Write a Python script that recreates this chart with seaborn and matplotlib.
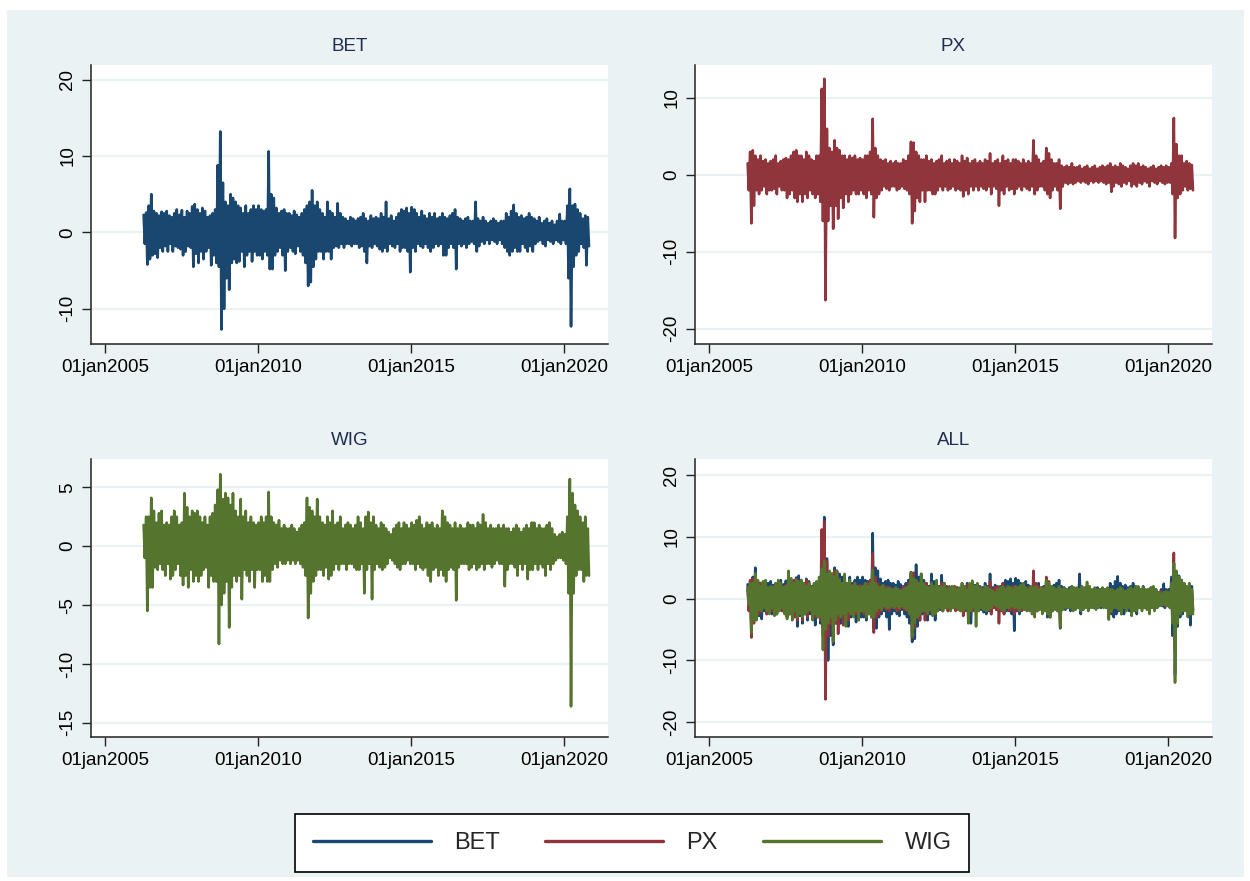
import numpy as np
import pandas as pd
import matplotlib
matplotlib.use("Agg")
import matplotlib.pyplot as plt
from matplotlib.patches import Rectangle
from matplotlib.lines import Line2D
import seaborn as sns

# ---------------- data (monthly high / low of daily returns, Apr 2006 - Oct 2020) -------------
start_month = "2006-04-01"

bet_hi = [2.3, 2.6, 3.5, 5.0, 2.8, 2.5, 2.2, 2.7, 2.5,
          2.8, 2.2, 2.0, 2.5, 3.0, 2.3, 2.9, 2.0, 2.8, 2.5, 3.4, 3.7,
          3.0, 2.5, 3.2, 2.8, 2.0, 2.2, 2.5, 3.0, 8.8, 13.2, 6.5, 4.0,
          3.5, 5.0, 4.5, 4.0, 3.5, 3.2, 2.5, 3.5, 2.5, 3.0, 3.5, 3.0,
          3.5, 3.0, 2.8, 3.0, 10.6, 5.0, 4.5, 3.2, 2.5, 2.8, 3.0, 2.5,
          2.5, 2.2, 2.8, 2.3, 2.0, 2.5, 3.0, 3.5, 4.0, 5.5, 3.5, 4.0,
          3.0, 2.5, 2.0, 4.0, 2.8, 2.5, 2.0, 3.8, 2.5, 2.0, 1.8, 1.5,
          2.0, 1.8, 1.5, 1.8, 2.0, 2.5, 1.8, 1.5, 2.2, 1.8, 2.0, 1.8,
          2.5, 2.0, 4.0, 1.8, 2.2, 1.5, 2.0, 2.5, 3.0, 2.8, 3.2, 2.5,
          3.3, 3.0, 2.5, 2.0, 2.8, 2.2, 1.8, 2.5, 2.0, 2.5, 1.8, 2.0,
          2.5, 2.0, 1.8, 2.2, 2.5, 3.0, 2.0, 1.8, 1.5, 1.8, 2.0, 1.5,
          1.5, 4.0, 1.8, 1.5, 2.0, 1.5, 1.2, 1.5, 1.8, 1.5, 1.2, 1.5,
          1.5, 2.5, 2.0, 2.8, 3.6, 2.5, 2.0, 2.2, 1.8, 2.0, 2.5, 2.0,
          1.8, 1.5, 2.0, 1.2, 1.5, 1.8, 1.2, 1.5, 1.0, 1.5, 2.4, 1.5,
          1.5, 3.5, 5.7, 3.5, 3.7, 3.0, 2.5, 1.8, 2.2, 2.0]
bet_lo = [-1.5, -4.2, -3.5, -3.0, -2.8, -3.3, -2.0, -2.5, -1.8,
          -2.5, -1.5, -2.5, -1.8, -2.0, -2.2, -3.0, -2.5, -1.8, -2.0, -4.5, -2.8,
          -4.0, -2.5, -3.5, -2.5, -2.0, -4.3, -3.0, -4.0, -4.5, -12.7, -10.0, -6.0,
          -7.5, -4.0, -3.5, -4.0, -3.8, -2.5, -4.5, -3.0, -2.5, -3.8, -2.5, -3.0,
          -3.0, -3.5, -2.5, -3.0, -4.8, -4.8, -3.0, -2.5, -2.0, -3.0, -5.0, -2.5,
          -2.0, -2.5, -2.8, -1.8, -2.5, -3.0, -4.0, -7.0, -6.5, -4.5, -3.5, -2.5,
          -2.5, -3.5, -2.5, -2.5, -3.5, -2.0, -1.8, -2.0, -1.5, -2.0, -1.5, -1.5,
          -1.8, -1.5, -1.5, -2.0, -1.8, -2.5, -4.0, -1.8, -2.0, -1.5, -1.8, -2.2,
          -2.5, -2.0, -2.5, -1.5, -1.8, -2.0, -1.5, -2.5, -2.0, -2.0, -2.5, -5.2,
          -2.0, -2.5, -1.5, -1.8, -2.0, -1.5, -2.0, -2.5, -2.0, -1.5, -1.8, -1.5,
          -3.0, -3.0, -2.0, -1.5, -2.0, -4.8, -1.5, -1.8, -1.5, -2.0, -1.5, -1.2,
          -1.5, -2.5, -1.8, -1.2, -1.5, -1.0, -1.5, -1.0, -1.2, -1.5, -1.0, -1.5,
          -2.0, -2.5, -3.0, -2.5, -2.0, -2.5, -2.5, -1.5, -2.0, -2.5, -1.8, -2.5,
          -1.5, -1.2, -1.0, -1.5, -1.8, -1.0, -1.2, -1.5, -1.0, -1.2, -1.5, -1.0,
          -1.5, -6.0, -12.3, -4.5, -3.0, -2.5, -1.5, -2.0, -4.3, -1.8]

px_hi = [1.5, 3.0, 3.2, 2.5, 2.0, 2.5, 1.8, 2.0, 1.5,
         1.8, 2.0, 2.5, 1.5, 1.8, 2.0, 2.2, 2.0, 2.5, 3.0, 3.2, 2.5,
         2.5, 2.0, 3.0, 2.5, 2.0, 1.8, 2.5, 2.5, 11.2, 12.5, 6.0, 3.5,
         3.0, 4.5, 3.5, 3.2, 2.5, 2.5, 2.0, 2.5, 2.2, 2.5, 2.0, 2.2,
         2.0, 2.5, 2.5, 3.0, 7.3, 3.5, 2.5, 2.0, 1.8, 2.0, 1.5, 1.8,
         1.5, 1.8, 1.5, 1.5, 2.0, 1.8, 2.5, 4.3, 4.2, 3.0, 2.5, 2.0,
         2.0, 2.5, 1.8, 2.0, 1.5, 1.8, 2.0, 2.5, 1.5, 1.8, 2.0, 1.5,
         2.0, 1.8, 1.5, 2.5, 1.8, 2.2, 1.5, 1.8, 2.0, 1.5, 1.8, 1.5,
         2.0, 1.8, 2.8, 1.5, 1.8, 2.0, 1.5, 2.5, 1.8, 2.0, 1.5, 2.0,
         2.0, 1.8, 1.5, 2.0, 1.5, 1.8, 1.5, 4.5, 2.5, 2.0, 1.5, 1.8,
         3.5, 2.8, 2.0, 1.5, 1.5, 2.0, 1.2, 1.0, 1.2, 1.0, 1.5, 1.0,
         1.0, 1.2, 0.8, 1.0, 1.2, 0.8, 1.0, 1.2, 0.8, 1.0, 1.2, 1.0,
         1.2, 1.5, 1.0, 1.2, 1.0, 1.5, 1.2, 1.0, 0.8, 1.2, 1.5, 1.2,
         1.5, 1.0, 1.2, 1.0, 0.8, 1.0, 1.2, 0.8, 1.0, 1.2, 1.0, 1.2,
         1.0, 1.5, 7.4, 4.0, 2.5, 2.5, 1.5, 1.8, 1.5, 1.3]
px_lo = [-2.0, -6.3, -4.0, -2.0, -2.5, -2.0, -1.5, -2.5, -2.0,
         -2.0, -1.8, -2.5, -1.5, -2.0, -2.0, -3.0, -2.5, -2.0, -3.0, -3.5, -2.5,
         -3.5, -2.5, -3.0, -2.0, -2.5, -3.0, -2.5, -3.5, -6.0, -16.3, -6.0, -4.0,
         -7.0, -4.0, -5.7, -3.0, -4.3, -2.5, -3.5, -2.5, -2.0, -2.5, -2.5, -2.0,
         -2.5, -3.0, -2.0, -2.5, -5.5, -3.0, -2.5, -2.0, -1.5, -1.8, -2.0, -1.5,
         -1.5, -2.0, -1.8, -1.5, -1.8, -2.0, -2.5, -6.3, -4.7, -3.0, -3.5, -2.0,
         -3.5, -2.0, -2.0, -2.5, -2.5, -2.0, -1.5, -2.0, -1.5, -2.0, -1.8, -1.5,
         -2.0, -1.8, -2.0, -2.8, -2.0, -2.5, -1.5, -2.0, -1.5, -2.0, -1.5, -1.8,
         -2.0, -1.5, -2.5, -1.5, -1.8, -4.0, -2.0, -2.5, -1.5, -2.0, -1.8, -2.5,
         -1.8, -1.5, -2.0, -1.5, -1.8, -2.0, -1.5, -2.5, -2.0, -1.5, -1.5, -2.0,
         -2.5, -3.0, -2.0, -1.5, -2.0, -4.4, -1.5, -1.0, -1.2, -1.0, -1.2, -1.0,
         -0.8, -1.0, -0.8, -1.0, -1.2, -0.8, -1.0, -0.8, -1.0, -0.8, -1.0, -1.2,
         -1.0, -2.2, -1.5, -1.0, -1.2, -1.5, -1.0, -1.2, -0.8, -1.5, -1.2, -1.5,
         -1.0, -1.2, -0.8, -1.0, -1.5, -0.8, -1.0, -1.2, -0.8, -1.0, -1.2, -1.0,
         -1.0, -2.5, -8.2, -3.0, -2.5, -2.0, -1.5, -2.0, -1.8, -2.0]

wig_hi = [1.8, 2.5, 2.5, 4.1, 3.0, 2.0, 2.8, 3.0, 1.8,
          2.0, 1.8, 2.5, 3.0, 2.5, 1.8, 2.0, 4.5, 3.3, 2.5, 3.0, 2.8,
          3.0, 2.5, 2.0, 2.5, 1.8, 2.5, 2.8, 3.5, 4.8, 6.1, 4.0, 4.5,
          4.1, 3.5, 4.5, 3.0, 2.5, 4.0, 2.5, 3.0, 2.0, 2.5, 2.0, 1.8,
          2.0, 2.5, 2.0, 2.5, 4.6, 2.5, 2.0, 1.8, 2.2, 1.5, 1.8, 1.5,
          1.5, 1.8, 1.5, 1.2, 1.5, 1.8, 2.0, 4.1, 3.3, 3.0, 2.5, 4.0,
          2.5, 2.0, 1.8, 2.5, 2.0, 3.0, 1.8, 2.0, 2.5, 1.5, 1.8, 2.0,
          1.8, 1.5, 1.8, 2.5, 2.0, 1.5, 2.5, 2.9, 2.0, 2.5, 1.8, 1.5,
          2.0, 1.8, 1.5, 1.2, 1.0, 1.5, 1.8, 2.0, 1.5, 2.0, 1.8, 1.5,
          2.0, 1.8, 2.2, 2.5, 1.8, 1.5, 2.0, 1.8, 2.0, 1.5, 1.8, 1.5,
          3.0, 2.5, 2.0, 1.8, 1.5, 2.0, 1.5, 1.8, 1.5, 1.5, 2.0, 1.8,
          1.8, 1.5, 2.0, 1.8, 2.7, 2.0, 1.5, 1.8, 1.5, 1.5, 1.8, 1.5,
          1.8, 1.5, 1.5, 1.2, 1.5, 1.8, 1.5, 1.2, 1.5, 1.8, 1.5, 2.0,
          2.0, 1.5, 1.8, 1.5, 1.5, 1.8, 2.0, 1.5, 1.0, 0.8, 1.0, 1.2,
          1.0, 2.5, 5.7, 4.5, 3.5, 3.0, 2.5, 2.0, 2.5, 1.5]
wig_lo = [-1.0, -5.5, -3.5, -3.5, -1.8, -2.0, -1.5, -2.0, -2.5,
          -1.5, -2.8, -2.5, -2.0, -1.5, -2.5, -3.3, -2.5, -3.5, -2.0, -3.0, -2.5,
          -3.0, -2.5, -2.0, -1.8, -3.5, -2.5, -3.0, -3.0, -8.3, -5.0, -4.0, -3.0,
          -6.9, -3.5, -2.5, -3.0, -2.5, -4.5, -2.0, -2.5, -3.0, -2.0, -3.5, -2.0,
          -2.0, -3.0, -2.5, -3.0, -3.0, -2.0, -1.5, -1.8, -1.2, -1.5, -1.5, -1.2,
          -1.5, -1.2, -1.5, -1.2, -1.5, -1.8, -2.5, -6.1, -4.0, -3.0, -2.5, -2.0,
          -2.0, -2.5, -1.8, -2.8, -2.5, -2.0, -1.5, -2.0, -1.5, -1.5, -2.0, -1.5,
          -1.5, -1.8, -2.0, -2.0, -1.5, -4.0, -2.0, -1.5, -4.5, -2.0, -1.5, -1.8,
          -2.0, -1.8, -1.5, -1.0, -1.2, -1.5, -1.8, -2.0, -1.5, -1.5, -1.2, -1.5,
          -1.5, -2.0, -1.5, -1.8, -2.0, -1.8, -2.5, -3.0, -2.0, -1.8, -2.5, -2.0,
          -2.5, -3.0, -2.0, -1.8, -2.0, -4.6, -1.8, -1.5, -1.5, -1.5, -2.0, -1.8,
          -1.5, -2.0, -1.8, -1.5, -2.0, -1.5, -1.5, -1.8, -1.5, -1.2, -1.5, -1.5,
          -3.4, -2.0, -1.5, -1.5, -1.8, -2.5, -1.5, -2.0, -1.5, -2.8, -2.0, -2.0,
          -1.5, -2.0, -1.5, -1.8, -2.5, -1.5, -2.0, -1.5, -1.2, -1.0, -1.0, -1.2,
          -1.5, -4.0, -13.6, -4.0, -2.5, -2.0, -2.0, -3.0, -2.5, -2.5]

series_names = ["BET", "PX", "WIG"]
series_colors = ["#1A476F", "#90353B", "#55752F"]
xtick_years = [2005, 2010, 2015, 2020]
xtick_labels = ["01jan2005", "01jan2010", "01jan2015", "01jan2020"]

# ---------------- build long table ----------------
months = pd.date_range(start_month, periods=len(bet_hi), freq="MS")
rows = []
for name, hi, lo in [("BET", bet_hi, bet_lo), ("PX", px_hi, px_lo), ("WIG", wig_hi, wig_lo)]:
    for m, h, l in zip(months, hi, lo):
        rows.append((name, m + pd.Timedelta(days=7), h))
        rows.append((name, m + pd.Timedelta(days=21), l))
df = pd.DataFrame(rows, columns=["index", "date", "ret"])

# ---------------- style ----------------
sns.set_theme(style="white")
plt.rcParams["font.family"] = ["Liberation Sans", "DejaVu Sans"]
BG = "#EAF2F3"
GRID = "#EAF2F3"
TITLE_C = "#1F2D50"

W, H = 1250, 881
fig = plt.figure(figsize=(W / 100, H / 100), dpi=100, facecolor="white")
fig.patches.append(Rectangle((7 / W, 1 - 877 / H), (1244 - 7) / W, (877 - 10) / H,
                             transform=fig.transFigure, facecolor=BG, edgecolor="none", zorder=-10))

def ax_at(x0, y0, x1, y1):
    return fig.add_axes([x0 / W, 1 - y1 / H, (x1 - x0) / W, (y1 - y0) / H])

panels = [
    ("BET", ax_at(91, 65, 608, 344), (-14.6, 21.9), [-10, 0, 10, 20], ["BET"]),
    ("PX", ax_at(695, 65, 1212, 344), (-22.0, 14.3), [-20, -10, 0, 10], ["PX"]),
    ("WIG", ax_at(91, 459, 608, 737), (-16.2, 7.4), [-15, -10, -5, 0, 5], ["WIG"]),
    ("ALL", ax_at(695, 459, 1212, 737), (-22.4, 22.6), [-20, -10, 0, 10, 20], ["BET", "PX", "WIG"]),
]

xmin = pd.Timestamp("2004-07-19")
xmax = pd.Timestamp("2021-06-06")
pal = dict(zip(series_names, series_colors))

for title, ax, ylim, yticks, members in panels:
    ax.set_facecolor("white")
    sub = df[df["index"].isin(members)]
    sns.lineplot(data=sub, x="date", y="ret", hue="index", hue_order=members,
                 palette=pal, estimator=None, ax=ax, linewidth=1.9, legend=False, zorder=3)
    ax.set_ylim(*ylim)
    ax.set_xlim(xmin, xmax)
    ax.set_yticks(yticks)
    ax.set_yticklabels([str(t) for t in yticks], rotation=90, va="center")
    ax.set_xticks([pd.Timestamp(f"{y}-01-01") for y in xtick_years])
    ax.set_xticklabels(xtick_labels)
    for t in yticks:
        ax.axhline(t, color=GRID, linewidth=1.6, zorder=1)
    ax.grid(False)
    for s in ["top", "right"]:
        ax.spines[s].set_visible(False)
    for s in ["left", "bottom"]:
        ax.spines[s].set_color("#222222")
        ax.spines[s].set_linewidth(1.1)
    ax.tick_params(axis="both", direction="out", length=6.5, width=1.0, color="#222222",
                   labelsize=13.5, labelcolor="black", pad=4, left=True, bottom=True)
    ax.set_xlabel("")
    ax.set_ylabel("")
    ax.set_title(title, fontsize=13.5, color=TITLE_C, pad=10)

# legend
handles = [Line2D([0], [0], color=c, linewidth=2.4) for c in series_colors]
leg = fig.legend(handles, series_names, loc="center", ncol=3,
                 bbox_to_anchor=(632 / W, 1 - 843 / H), frameon=True, fancybox=False,
                 fontsize=17, handlelength=5.0, handletextpad=1.0, columnspacing=1.9,
                 borderpad=0.75, framealpha=1.0)
leg.get_frame().set_edgecolor("black")
leg.get_frame().set_linewidth(1.2)
leg.get_frame().set_facecolor("white")

fig.savefig("out.png", dpi=100, facecolor=fig.get_facecolor())
